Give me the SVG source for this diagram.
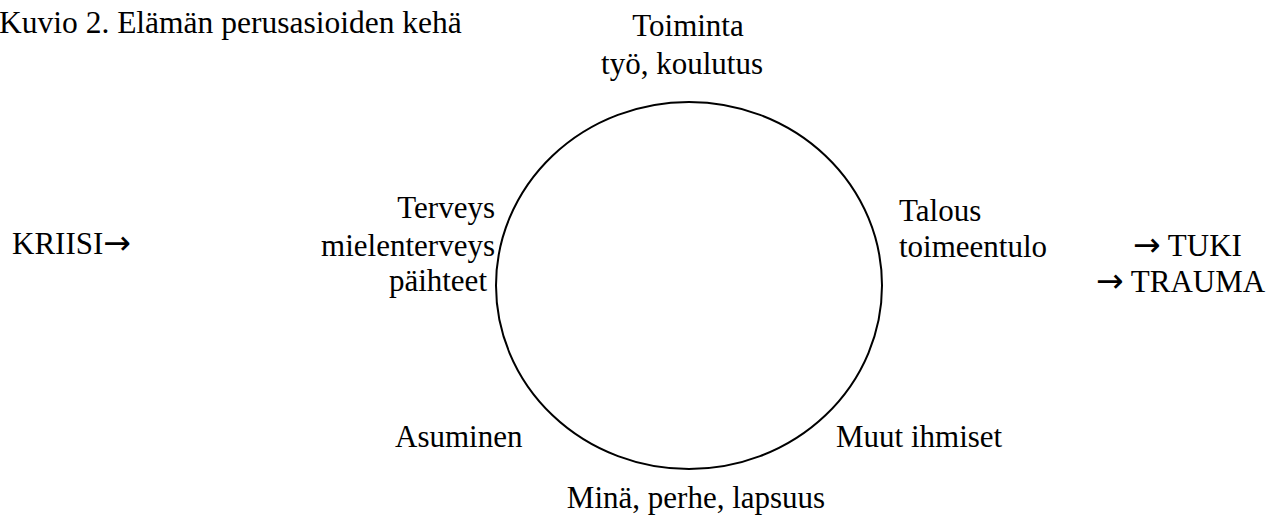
<svg xmlns="http://www.w3.org/2000/svg" width="1276" height="522" viewBox="0 0 1276 522">
<style>
text { font-family: "Liberation Serif", "Times New Roman", serif; font-size: 31px; fill: #000; }
.c { text-anchor: middle; }
.e { text-anchor: end; }
.t { font-size: 31.5px; }
.a { font-family: "DejaVu Sans", sans-serif; font-size: 33px; }
</style>
<rect width="1276" height="522" fill="#fff"/>
<text class="t" x="-1" y="33">Kuvio 2. Elämän perusasioiden kehä</text>
<g id="connectors">
<ellipse cx="689" cy="285.5" rx="193" ry="183.5" fill="none" stroke="#000" stroke-width="2"/>
</g>
<g id="toiminta"><text class="c" x="688" y="36">Toiminta</text><text class="c" x="682" y="74">työ, koulutus</text></g>
<g id="terveys"><text class="e" x="495" y="218">Terveys</text><text class="e" x="495" y="256">mielenterveys</text><text class="e" x="487" y="291">päihteet</text></g>
<g id="talous"><text x="899" y="221">Talous</text><text x="899" y="257">toimeentulo</text></g>
<g id="asuminen"><text x="395" y="447">Asuminen</text></g>
<g id="muut"><text x="836" y="447">Muut ihmiset</text></g>
<g id="mina"><text class="c" x="696" y="508">Minä, perhe, lapsuus</text></g>
<g id="kriisi"><text x="12" y="254">KRIISI<tspan class="a">→</tspan></text></g>
<g id="tuki"><text x="1133" y="256"><tspan class="a">→</tspan> TUKI</text><text x="1096" y="292"><tspan class="a">→</tspan> TRAUMA</text></g>
</svg>
